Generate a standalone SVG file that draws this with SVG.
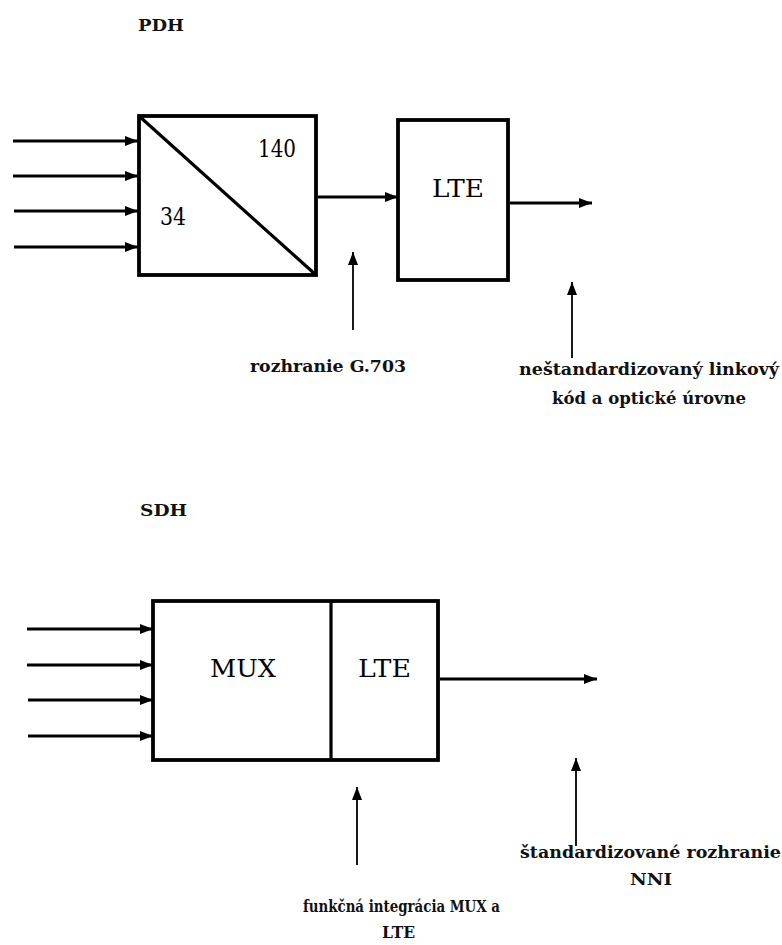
<svg xmlns="http://www.w3.org/2000/svg" width="782" height="945" viewBox="0 0 782 945">
  <style>
    .box { fill: #fff; stroke: #000; stroke-width: 3.8; }
    .ln { stroke: #000; stroke-width: 3.2; fill: none; }
    .conn { stroke: #000; stroke-width: 3; fill: none; }
    .ann { stroke: #000; stroke-width: 1.8; fill: none; }
    .big { font-family: 'DejaVu Serif', serif; font-size: 25px; fill: #000; }
    .lbl { font-family: 'DejaVu Serif', serif; font-size: 16px; font-weight: bold; fill: #111; }
    .hdr { font-family: 'DejaVu Serif', serif; font-size: 16px; font-weight: bold; fill: #111; }
  </style>
  <defs>
    <marker id="ah" markerUnits="userSpaceOnUse" markerWidth="14" markerHeight="12" refX="13" refY="6" orient="auto">
      <path d="M0,1 L13,6 L0,11 Z" fill="#000"/>
    </marker>
    <marker id="ahs" markerUnits="userSpaceOnUse" markerWidth="14" markerHeight="12" refX="13" refY="6" orient="auto">
      <path d="M0,1 L13,6 L0,11 Z" fill="#000"/>
    </marker>
  </defs>

  <text class="hdr" x="138" y="31" textLength="46" lengthAdjust="spacingAndGlyphs">PDH</text>
  <text class="hdr" x="140" y="516" textLength="47" lengthAdjust="spacingAndGlyphs">SDH</text>

  <g id="pdh-mux">
    <rect class="box" x="139" y="116" width="177" height="159"/>
    <line class="ln" x1="139" y1="116" x2="316" y2="275"/>
    <text class="big" x="258" y="157" textLength="38" lengthAdjust="spacingAndGlyphs">140</text>
    <text class="big" x="160" y="225" textLength="26" lengthAdjust="spacingAndGlyphs">34</text>
  </g>

  <g id="pdh-lte">
    <rect class="box" x="398" y="120" width="110" height="160"/>
    <text class="big" x="432" y="197" textLength="52" lengthAdjust="spacingAndGlyphs">LTE</text>
  </g>

  <g id="sdh-muxlte">
    <rect class="box" x="153" y="601" width="285" height="159"/>
    <line class="ln" x1="331" y1="601" x2="331" y2="760"/>
    <text class="big" x="210" y="677" textLength="66" lengthAdjust="spacingAndGlyphs">MUX</text>
    <text class="big" x="358" y="677" textLength="53" lengthAdjust="spacingAndGlyphs">LTE</text>
  </g>

  <g id="labels">
    <text class="lbl" x="250" y="372" textLength="156" lengthAdjust="spacingAndGlyphs">rozhranie G.703</text>
    <text class="lbl" x="519" y="375" textLength="260" lengthAdjust="spacingAndGlyphs">neštandardizovaný linkový</text>
    <text class="lbl" x="552" y="404" textLength="194" lengthAdjust="spacingAndGlyphs">kód a optické úrovne</text>
    <text class="lbl" x="303" y="912" textLength="197" lengthAdjust="spacingAndGlyphs">funkčná integrácia MUX a</text>
    <text class="lbl" x="382" y="938" textLength="33" lengthAdjust="spacingAndGlyphs">LTE</text>
    <text class="lbl" x="520" y="858" textLength="261" lengthAdjust="spacingAndGlyphs">štandardizované rozhranie</text>
    <text class="lbl" x="630" y="885" textLength="42" lengthAdjust="spacingAndGlyphs">NNI</text>
  </g>

  <g id="connectors">
    <line class="conn" x1="13" y1="141" x2="138" y2="141" marker-end="url(#ah)"/>
    <line class="conn" x1="13" y1="176" x2="138" y2="176" marker-end="url(#ah)"/>
    <line class="conn" x1="14" y1="211" x2="138" y2="211" marker-end="url(#ah)"/>
    <line class="conn" x1="14" y1="247" x2="138" y2="247" marker-end="url(#ah)"/>
    <line class="conn" x1="318" y1="197" x2="398" y2="197" marker-end="url(#ah)"/>
    <line class="conn" x1="510" y1="203" x2="592" y2="203" marker-end="url(#ah)"/>
    <line class="ann" x1="353" y1="330" x2="353" y2="252" marker-end="url(#ahs)"/>
    <line class="ann" x1="572" y1="358" x2="572" y2="282" marker-end="url(#ahs)"/>

    <line class="conn" x1="27" y1="629" x2="153" y2="629" marker-end="url(#ah)"/>
    <line class="conn" x1="27" y1="665" x2="153" y2="665" marker-end="url(#ah)"/>
    <line class="conn" x1="28" y1="700" x2="153" y2="700" marker-end="url(#ah)"/>
    <line class="conn" x1="28" y1="736" x2="153" y2="736" marker-end="url(#ah)"/>
    <line class="conn" x1="440" y1="679" x2="597" y2="679" marker-end="url(#ah)"/>
    <line class="ann" x1="357" y1="865" x2="357" y2="787" marker-end="url(#ahs)"/>
    <line class="ann" x1="576" y1="846" x2="576" y2="758" marker-end="url(#ahs)"/>
  </g>
</svg>
